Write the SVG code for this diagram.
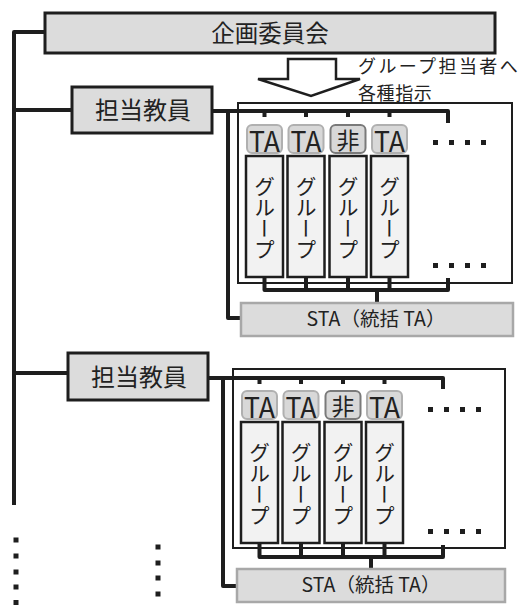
<svg xmlns="http://www.w3.org/2000/svg" width="528" height="605" viewBox="0 0 528 605">
<style>
  .jp{font-family:"Noto Sans CJK JP","Noto Sans",sans-serif;fill:#222}
  .box{fill:#dcdcdc;stroke:#1e1e1e;stroke-width:3}
  .sta{fill:#dcdcdc;stroke:#a8a8a8;stroke-width:2.5}
  .frame{fill:#fff;stroke:#1e1e1e;stroke-width:2}
  .grp{fill:#f2f2f2;stroke:#1e1e1e;stroke-width:2.5}
  .badge{fill:#d8d8d8;stroke:#b0b0b0;stroke-width:2}
  .badge2{fill:#d8d8d8;stroke:#7a7a7a;stroke-width:2}
  .bus{fill:none;stroke:#1e1e1e;stroke-width:4;stroke-linejoin:round}
  .vt{writing-mode:vertical-rl;font-size:21px}
  .dot{fill:#1e1e1e}
</style>

<!-- frames (background containers) -->
<rect id="frame1" class="frame" x="238" y="103" width="274" height="180"/>
<rect id="frame2" class="frame" x="233" y="369" width="272" height="179"/>

<g id="connectors">
  <!-- main left spine -->
  <path class="bus" d="M45,32 H14 V505"/>
  <path class="bus" d="M14,110 H72"/>
  <path class="bus" d="M14,373 H68"/>
  <!-- section 1 -->
  <path class="bus" d="M212,111 H448 V123"/>
  <path class="bus" d="M264.5,111 V117 M306,111 V117 M348,111 V117 M389.5,111 V117"/>
  <path class="bus" d="M228,111 V318 H241"/>
  <path class="bus" d="M264.5,277 V290 H448 V278 M306,277 V290 M348,277 V290 M389.5,277 V290 M377,290 V303"/>
  <!-- section 2 -->
  <path class="bus" d="M208,378 H443 V389"/>
  <path class="bus" d="M259.5,378 V384 M301,378 V384 M343,378 V384 M384.5,378 V384"/>
  <path class="bus" d="M223,378 V586 H237"/>
  <path class="bus" d="M259.5,543 V557 H443 V545 M301,543 V557 M343,543 V557 M384.5,543 V557 M371,557 V569"/>
  <!-- instruction arrow -->
  <polygon points="288,59 336,59 336,79 360,79 311,96 258,79 288,79" fill="#fff" stroke="#1e1e1e" stroke-width="2.5" stroke-linejoin="miter"/>
</g>

<g id="committee">
  <rect class="box" x="45" y="13" width="450" height="40"/>
  <text class="jp" x="270" y="42" font-size="23.5" text-anchor="middle">企画委員会</text>
</g>

<g id="instruction-label">
  <text class="jp" x="358" y="73" font-size="18" letter-spacing="2.4">グループ担当者へ</text>
  <text class="jp" x="358" y="99.5" font-size="18" letter-spacing="0.6">各種指示</text>
</g>

<g id="teacher1">
  <rect class="box" x="72" y="87" width="140" height="46"/>
  <text class="jp" x="143" y="119" font-size="24" text-anchor="middle">担当教員</text>
</g>

<g id="teacher2">
  <rect class="box" x="68" y="353" width="140" height="47"/>
  <text class="jp" x="139" y="386" font-size="24" text-anchor="middle">担当教員</text>
</g>

<!-- section 1 badges -->
<g id="s1-badge1"><rect class="badge" x="247" y="125" width="35" height="28" rx="5"/><text class="jp" x="264.5" y="152" font-size="28" text-anchor="middle" textLength="31" lengthAdjust="spacingAndGlyphs">TA</text></g>
<g id="s1-badge2"><rect class="badge" x="288.5" y="125" width="35" height="28" rx="5"/><text class="jp" x="306" y="152" font-size="28" text-anchor="middle" textLength="31" lengthAdjust="spacingAndGlyphs">TA</text></g>
<g id="s1-badge3"><rect class="badge2" x="330.5" y="125" width="35" height="28" rx="5"/><text class="jp" x="348" y="149" font-size="23" text-anchor="middle">非</text></g>
<g id="s1-badge4"><rect class="badge" x="372" y="125" width="35" height="28" rx="5"/><text class="jp" x="389.5" y="152" font-size="28" text-anchor="middle" textLength="31" lengthAdjust="spacingAndGlyphs">TA</text></g>

<!-- section 1 groups -->
<g id="s1-group1"><rect class="grp" x="246" y="156" width="37" height="121"/><text class="jp vt" x="264.5" y="176">グループ</text></g>
<g id="s1-group2"><rect class="grp" x="287.5" y="156" width="37" height="121"/><text class="jp vt" x="306" y="176">グループ</text></g>
<g id="s1-group3"><rect class="grp" x="329.5" y="156" width="37" height="121"/><text class="jp vt" x="348" y="176">グループ</text></g>
<g id="s1-group4"><rect class="grp" x="371" y="156" width="37" height="121"/><text class="jp vt" x="389.5" y="176">グループ</text></g>

<g id="s1-more">
  <rect class="dot" x="433" y="140" width="5" height="5"/><rect class="dot" x="449" y="140" width="5" height="5"/><rect class="dot" x="465" y="140" width="5" height="5"/><rect class="dot" x="481" y="140" width="5" height="5"/>
  <rect class="dot" x="433" y="263" width="5" height="5"/><rect class="dot" x="449" y="263" width="5" height="5"/><rect class="dot" x="465" y="263" width="5" height="5"/><rect class="dot" x="481" y="263" width="5" height="5"/>
</g>

<g id="s1-sta">
  <rect class="sta" x="241" y="303" width="272" height="33"/>
  <text class="jp" x="376" y="326" font-size="19.5" text-anchor="middle">STA（統括 TA）</text>
</g>

<!-- section 2 badges -->
<g id="s2-badge1"><rect class="badge" x="242" y="391" width="35" height="28" rx="5"/><text class="jp" x="259.5" y="418" font-size="28" text-anchor="middle" textLength="31" lengthAdjust="spacingAndGlyphs">TA</text></g>
<g id="s2-badge2"><rect class="badge" x="283.5" y="391" width="35" height="28" rx="5"/><text class="jp" x="301" y="418" font-size="28" text-anchor="middle" textLength="31" lengthAdjust="spacingAndGlyphs">TA</text></g>
<g id="s2-badge3"><rect class="badge2" x="325.5" y="391" width="35" height="28" rx="5"/><text class="jp" x="343" y="415" font-size="23" text-anchor="middle">非</text></g>
<g id="s2-badge4"><rect class="badge" x="367" y="391" width="35" height="28" rx="5"/><text class="jp" x="384.5" y="418" font-size="28" text-anchor="middle" textLength="31" lengthAdjust="spacingAndGlyphs">TA</text></g>

<!-- section 2 groups -->
<g id="s2-group1"><rect class="grp" x="241" y="422" width="37" height="121"/><text class="jp vt" x="259.5" y="442">グループ</text></g>
<g id="s2-group2"><rect class="grp" x="282.5" y="422" width="37" height="121"/><text class="jp vt" x="301" y="442">グループ</text></g>
<g id="s2-group3"><rect class="grp" x="324.5" y="422" width="37" height="121"/><text class="jp vt" x="343" y="442">グループ</text></g>
<g id="s2-group4"><rect class="grp" x="366" y="422" width="37" height="121"/><text class="jp vt" x="384.5" y="442">グループ</text></g>

<g id="s2-more">
  <rect class="dot" x="428" y="407" width="5" height="5"/><rect class="dot" x="444" y="407" width="5" height="5"/><rect class="dot" x="460" y="407" width="5" height="5"/><rect class="dot" x="476" y="407" width="5" height="5"/>
  <rect class="dot" x="428" y="529" width="5" height="5"/><rect class="dot" x="444" y="529" width="5" height="5"/><rect class="dot" x="460" y="529" width="5" height="5"/><rect class="dot" x="476" y="529" width="5" height="5"/>
</g>

<g id="s2-sta">
  <rect class="sta" x="237" y="569" width="268" height="33"/>
  <text class="jp" x="371" y="592" font-size="19.5" text-anchor="middle">STA（統括 TA）</text>
</g>

<g id="ellipsis">
  <rect class="dot" x="13.5" y="537.5" width="5" height="5"/><rect class="dot" x="13.5" y="553.5" width="5" height="5"/><rect class="dot" x="13.5" y="569.5" width="5" height="5"/><rect class="dot" x="13.5" y="584.5" width="5" height="5"/><rect class="dot" x="13.5" y="600" width="5" height="5"/>
  <rect class="dot" x="155.5" y="544.5" width="5" height="5"/><rect class="dot" x="155.5" y="560.5" width="5" height="5"/><rect class="dot" x="155.5" y="575.5" width="5" height="5"/><rect class="dot" x="155.5" y="591.5" width="5" height="5"/>
</g>
</svg>
